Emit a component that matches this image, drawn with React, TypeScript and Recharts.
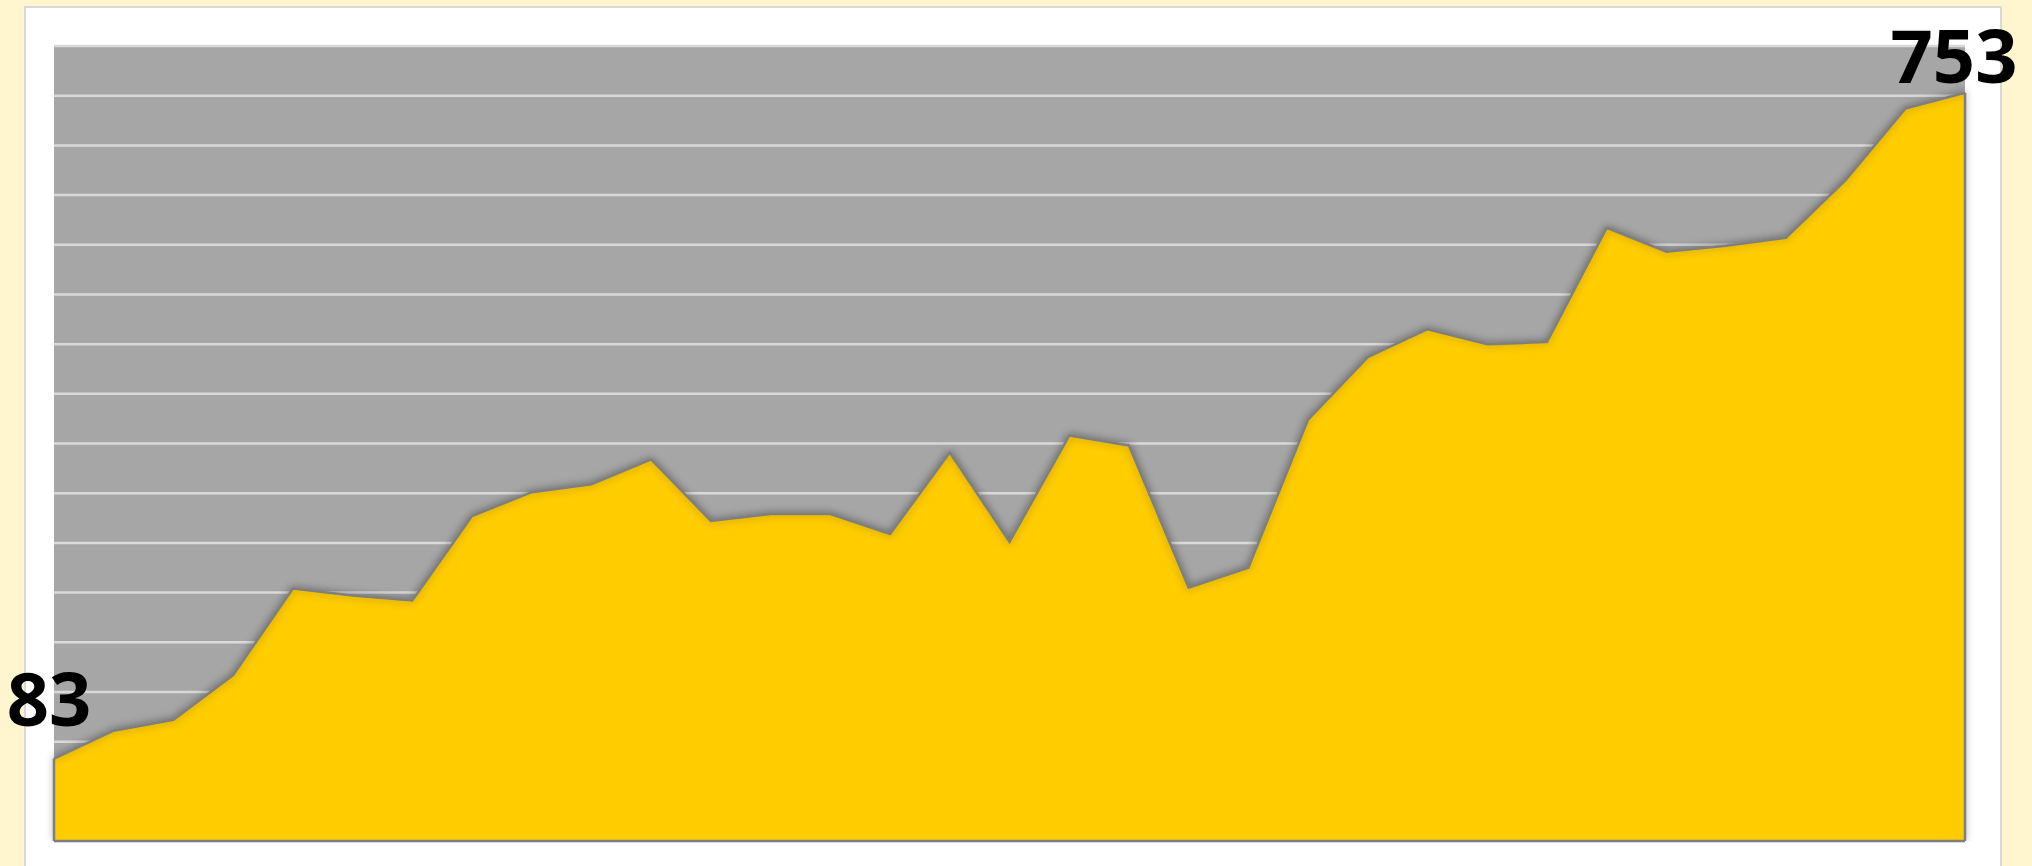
import React from 'react';
import { AreaChart, Area, XAxis, YAxis, CartesianGrid, ReferenceLine, LabelList } from 'recharts';

const categories: string[] = [
  '1', '2', '3', '4', '5', '6', '7', '8', '9', '10', '11',
  '12', '13', '14', '15', '16', '17', '18', '19', '20', '21', '22',
  '23', '24', '25', '26', '27', '28', '29', '30', '31', '32', '33',
];

const values: number[] = [
  83, 111, 122, 167, 254, 247, 242, 327, 351, 359, 384,
  322, 329, 329, 309, 391, 301, 408, 398, 255, 275, 424,
  487, 515, 500, 502, 617, 593, 599, 607, 665, 737, 753,
];

const yTicks: number[] = [0, 50, 100, 150, 200, 250, 300, 350, 400, 450, 500, 550, 600, 650, 700, 750, 800];

const data = categories.map((c, i) => ({ name: c, value: values[i] }));

const lastIndex = values.length - 1;

const EndLabel = (props: any) => {
  const { x, y, index, value } = props;
  const style = {
    fontFamily: '"Open Sans", "Noto Sans", sans-serif',
    fontWeight: 700,
    fontSize: 74,
    fill: '#000000',
  } as const;
  if (index === 0) {
    return (
      <text x={x - 5} y={y - 33} textAnchor="middle" {...style}>
        {value}
      </text>
    );
  }
  if (index === lastIndex) {
    return (
      <text x={x - 11} y={y - 10} textAnchor="middle" {...style}>
        {value}
      </text>
    );
  }
  return null;
};

export default function App() {
  return (
    <div
      style={{
        position: 'absolute',
        left: 0,
        top: 0,
        width: 2032,
        height: 866,
        background: '#FFF5CE',
        overflow: 'hidden',
      }}
    >
      <div
        style={{
          position: 'absolute',
          left: 24,
          top: 6,
          width: 1974,
          height: 870,
          background: '#FFFFFF',
          border: '2px solid #D9D9D9',
        }}
      />
      <div style={{ position: 'absolute', left: 0, top: 0 }}>
        <AreaChart
          width={2032}
          height={866}
          data={data}
          margin={{ top: 46, left: 54, right: 67, bottom: 25 }}
        >
          <defs>
            <filter id="areaShadow" x="-5%" y="-5%" width="110%" height="110%">
              <feDropShadow dx="0" dy="0" stdDeviation="4" floodColor="#000000" floodOpacity="0.35" />
            </filter>
          </defs>
          <CartesianGrid
            vertical={false}
            stroke="#D9D9D9"
            strokeWidth={2.5}
            fill="#A6A6A6"
            fillOpacity={1}
          />
          <XAxis dataKey="name" hide type="category" />
          <YAxis hide domain={[0, 800]} ticks={yTicks} type="number" allowDataOverflow />
          <Area
            type="linear"
            dataKey="value"
            stroke="#7F7F7F"
            strokeWidth={2.5}
            fill="#FFCC00"
            fillOpacity={1}
            isAnimationActive={false}
            dot={false}
            activeDot={false}
            style={{ filter: 'url(#areaShadow)' }}
          >
            <LabelList dataKey="value" content={EndLabel} />
          </Area>
          <ReferenceLine
            segment={[{ x: categories[0], y: 0 }, { x: categories[0], y: values[0] }]}
            stroke="#7F7F7F"
            strokeWidth={2.5}
          />
          <ReferenceLine
            segment={[{ x: categories[lastIndex], y: 0 }, { x: categories[lastIndex], y: values[lastIndex] }]}
            stroke="#7F7F7F"
            strokeWidth={2.5}
          />
          <ReferenceLine y={0} stroke="#7F7F7F" strokeWidth={2.5} />
        </AreaChart>
      </div>
    </div>
  );
}
